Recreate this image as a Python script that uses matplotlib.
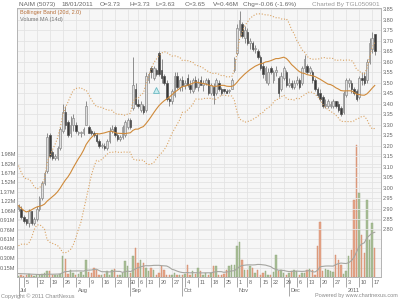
import matplotlib
matplotlib.use("Agg")
import matplotlib.pyplot as plt
from matplotlib import transforms
import numpy as np
import pandas as pd

plt.rcParams["font.family"] = ["Liberation Sans", "DejaVu Sans"]

# trading calendar (Bursa holidays removed)
holidays = ["2010-08-31", "2010-09-09", "2010-09-10", "2010-11-05", "2010-11-17", "2010-12-07"]
days = pd.bdate_range("2010-07-01", "2011-01-18")
days = days[~days.isin(pd.to_datetime(holidays))]

opens = [2.90, 2.90, 2.86, 2.85, 2.83, 2.89, 2.83, 2.85, 2.90, 2.95,
         3.02, 3.08, 3.25, 3.17, 3.14, 3.14, 3.19, 3.27, 3.36, 3.31,
         3.26, 3.30, 3.30, 3.26, 3.26, 3.26, 3.30, 3.29, 3.27, 3.26,
         3.25, 3.22, 3.20, 3.20, 3.19, 3.22, 3.27, 3.29, 3.25, 3.23,
         3.24, 3.25, 3.29, 3.32, 3.38, 3.47, 3.40, 3.37, 3.39, 3.37,
         3.51, 3.57, 3.52, 3.56, 3.64, 3.56, 3.53, 3.50, 3.42, 3.41,
         3.44, 3.53, 3.48, 3.51, 3.49, 3.52, 3.49, 3.46, 3.51, 3.48,
         3.51, 3.49, 3.50, 3.51, 3.45, 3.48, 3.45, 3.50, 3.47, 3.47,
         3.46, 3.46, 3.47, 3.56, 3.64, 3.75, 3.78, 3.71, 3.74, 3.69,
         3.69, 3.66, 3.65, 3.62, 3.58, 3.51, 3.50, 3.57, 3.51, 3.55,
         3.52, 3.47, 3.52, 3.55, 3.49, 3.50, 3.48, 3.50, 3.51, 3.50,
         3.57, 3.58, 3.55, 3.55, 3.51, 3.47, 3.45, 3.43, 3.39, 3.39,
         3.39, 3.39, 3.41, 3.40, 3.38, 3.36, 3.44, 3.50, 3.50, 3.47,
         3.46, 3.43, 3.52, 3.53, 3.51, 3.60, 3.66, 3.73]
highs = [2.92, 2.91, 2.87, 2.85, 2.90, 2.89, 2.86, 2.91, 2.96, 3.03,
         3.08, 3.26, 3.26, 3.18, 3.16, 3.20, 3.29, 3.40, 3.39, 3.32,
         3.34, 3.35, 3.31, 3.27, 3.27, 3.29, 3.41, 3.30, 3.28, 3.27,
         3.26, 3.23, 3.21, 3.21, 3.23, 3.29, 3.30, 3.30, 3.26, 3.25,
         3.30, 3.32, 3.33, 3.33, 3.62, 3.50, 3.42, 3.41, 3.40, 3.55,
         3.55, 3.58, 3.58, 3.57, 3.65, 3.61, 3.54, 3.51, 3.43, 3.47,
         3.55, 3.55, 3.52, 3.53, 3.51, 3.54, 3.51, 3.52, 3.53, 3.52,
         3.53, 3.51, 3.52, 3.52, 3.50, 3.50, 3.52, 3.51, 3.48, 3.47,
         3.47, 3.47, 3.52, 3.62, 3.78, 3.84, 3.79, 3.77, 3.76, 3.71,
         3.70, 3.68, 3.66, 3.63, 3.60, 3.58, 3.57, 3.58, 3.56, 3.58,
         3.53, 3.55, 3.58, 3.56, 3.52, 3.51, 3.51, 3.53, 3.52, 3.58,
         3.63, 3.59, 3.58, 3.56, 3.52, 3.48, 3.47, 3.44, 3.42, 3.42,
         3.41, 3.42, 3.41, 3.41, 3.39, 3.46, 3.52, 3.52, 3.51, 3.48,
         3.47, 3.53, 3.55, 3.55, 3.61, 3.71, 3.74, 3.73]
lows = [2.89, 2.85, 2.83, 2.82, 2.81, 2.82, 2.82, 2.84, 2.89, 2.94,
        3.01, 3.07, 3.14, 3.13, 3.13, 3.13, 3.18, 3.26, 3.28, 3.24,
        3.24, 3.27, 3.26, 3.25, 3.24, 3.25, 3.30, 3.26, 3.25, 3.24,
        3.21, 3.19, 3.19, 3.18, 3.18, 3.21, 3.26, 3.24, 3.22, 3.22,
        3.23, 3.24, 3.28, 3.28, 3.37, 3.39, 3.38, 3.36, 3.35, 3.36,
        3.50, 3.52, 3.51, 3.53, 3.53, 3.50, 3.49, 3.41, 3.39, 3.40,
        3.43, 3.47, 3.46, 3.46, 3.47, 3.48, 3.45, 3.45, 3.47, 3.46,
        3.49, 3.46, 3.49, 3.44, 3.44, 3.40, 3.44, 3.46, 3.44, 3.45,
        3.45, 3.45, 3.47, 3.55, 3.63, 3.72, 3.71, 3.69, 3.68, 3.66,
        3.65, 3.64, 3.61, 3.56, 3.52, 3.50, 3.49, 3.54, 3.50, 3.53,
        3.43, 3.46, 3.51, 3.48, 3.48, 3.47, 3.47, 3.49, 3.47, 3.49,
        3.55, 3.54, 3.54, 3.50, 3.46, 3.43, 3.41, 3.38, 3.38, 3.38,
        3.38, 3.38, 3.38, 3.36, 3.34, 3.35, 3.43, 3.48, 3.45, 3.44,
        3.41, 3.42, 3.49, 3.49, 3.50, 3.59, 3.64, 3.63]
closes = [2.91, 2.86, 2.84, 2.83, 2.89, 2.83, 2.85, 2.90, 2.95, 3.02,
          3.07, 3.24, 3.15, 3.14, 3.15, 3.19, 3.28, 3.36, 3.30, 3.25,
          3.30, 3.33, 3.27, 3.26, 3.26, 3.28, 3.39, 3.26, 3.26, 3.25,
          3.22, 3.20, 3.20, 3.19, 3.22, 3.27, 3.28, 3.25, 3.23, 3.24,
          3.29, 3.31, 3.32, 3.29, 3.49, 3.40, 3.39, 3.40, 3.36, 3.53,
          3.54, 3.55, 3.57, 3.54, 3.54, 3.52, 3.50, 3.42, 3.41, 3.46,
          3.53, 3.48, 3.51, 3.49, 3.50, 3.49, 3.47, 3.51, 3.48, 3.50,
          3.49, 3.50, 3.51, 3.45, 3.49, 3.44, 3.51, 3.47, 3.45, 3.46,
          3.45, 3.46, 3.51, 3.61, 3.76, 3.80, 3.72, 3.75, 3.69, 3.70,
          3.66, 3.66, 3.62, 3.57, 3.54, 3.57, 3.55, 3.55, 3.55, 3.56,
          3.45, 3.53, 3.57, 3.49, 3.50, 3.48, 3.50, 3.51, 3.48, 3.57,
          3.61, 3.55, 3.57, 3.51, 3.47, 3.44, 3.42, 3.39, 3.40, 3.41,
          3.40, 3.41, 3.39, 3.37, 3.35, 3.45, 3.51, 3.51, 3.47, 3.45,
          3.42, 3.52, 3.51, 3.50, 3.60, 3.69, 3.71, 3.65]
volumes = [0.02, 0.03, 0.02, 0.04, 0.05, 0.03, 0.02, 0.04, 0.03, 0.05,
           0.07, 0.09, 0.09, 0.04, 0.04, 0.04, 0.05, 0.34, 0.29, 0.05,
           0.12, 0.06, 0.03, 0.05, 0.08, 0.04, 0.28, 0.08, 0.06, 0.15,
           0.12, 0.04, 0.03, 0.05, 0.09, 0.04, 0.12, 0.13, 0.04, 0.03,
           0.06, 0.25, 0.17, 0.06, 0.33, 0.47, 0.23, 0.28, 0.23, 0.15,
           0.10, 0.15, 0.11, 0.04, 0.06, 0.17, 0.12, 0.03, 0.04, 0.03,
           0.06, 0.03, 0.04, 0.03, 0.05, 0.20, 0.03, 0.09, 0.05, 0.15,
           0.09, 0.04, 0.06, 0.03, 0.06, 0.17, 0.17, 0.03, 0.03, 0.05,
           0.12, 0.17, 0.20, 0.20, 0.49, 0.57, 0.28, 0.12, 0.12, 0.18,
           0.15, 0.06, 0.12, 0.03, 0.06, 0.09, 0.03, 0.03, 0.08, 0.36,
           0.09, 0.12, 0.07, 0.03, 0.06, 0.09, 0.12, 0.09, 0.03, 0.06,
           0.06, 0.12, 0.13, 0.12, 0.03, 0.49, 0.89, 0.10, 0.13, 0.11,
           0.10, 0.08, 0.36, 0.28, 0.20, 0.05, 0.09, 0.33, 0.44, 1.23,
           2.12, 1.35, 0.68, 0.39, 1.24, 0.60, 0.87, 0.46]  # millions

# closes / volumes just before the window, only to seed the 20d band and 14d MA
june_closes = [3.10, 3.05, 2.98, 2.80, 2.72, 2.70, 2.78, 2.88, 2.95, 2.93,
               2.96, 2.94, 2.92, 2.95, 2.93, 2.94, 2.96, 2.93, 2.94]
june_volumes = [0.06, 0.05, 0.07, 0.06, 0.05, 0.06, 0.07, 0.05, 0.06, 0.06,
                0.05, 0.06, 0.05]

price_ticks = [round(2.80 + 0.05 * k, 2) for k in range(22)]
vol_ticks = [0.15, 0.30, 0.46, 0.61, 0.76, 0.91, 1.06, 1.22, 1.37, 1.52, 1.67, 1.82, 1.98]
month_names = ["Jul", "Aug", "Sep", "Oct", "Nov", "Dec", "2011"]

header = [(19, "NAIM (5073)"), (61, "18/01/2011"), (100, "O=3.73"), (130, "H=3.73"),
          (156, "L=3.63"), (185, "C=3.65"), (213, "V=0.46M"), (243, "Chg=-0.06 (-1.6%)")]

o = np.array(opens); h = np.array(highs); l = np.array(lows); c = np.array(closes)
v = np.array(volumes)
x = np.arange(len(days))

cs = pd.Series(june_closes + closes)
mid = cs.rolling(20).mean().to_numpy()[len(june_closes):]
sd = cs.rolling(20).std(ddof=0).to_numpy()[len(june_closes):]
vma = pd.Series(june_volumes + volumes).rolling(14).mean().to_numpy()[len(june_volumes):]

fig = plt.figure(figsize=(4, 3), dpi=100)
ax_v = fig.add_axes([17 / 400, 1 - 277 / 300, 364 / 400, 269 / 300])
ax_p = ax_v.twinx()
ax_v.set_facecolor("#f6f6f6")
grid_c = "#e3e3e3"
lab_c = "#666666"
fs = 4.0

# volume
up = c >= o
ax_v.bar(x[up], v[up], width=0.55, color="#a9bf97", edgecolor="#8ea67b", linewidth=0.3, zorder=2)
ax_v.bar(x[~up], v[~up], width=0.55, color="#e6a68a", edgecolor="#cf8767", linewidth=0.3, zorder=2)
ax_v.plot(x, vma, color="#a5a5a0", lw=0.8, zorder=3)
ax_v.set_ylim(0, 4.32)
ax_v.set_xlim(-0.58, 139.4)
ax_v.set_yticks(vol_ticks)
ax_v.set_yticklabels(["%.2fM" % t for t in vol_ticks])
ax_v.grid(axis="y", color=grid_c, lw=0.6, zorder=0)
ax_v.set_axisbelow(True)

# x axis: weekly ticks and month separators
wk = [i for i in range(1, len(days)) if days[i].weekday() < days[i - 1].weekday()]
mo = [i for i in range(len(days)) if i == 0 or days[i].month != days[i - 1].month]
ax_v.set_xticks(wk)
ax_v.set_xticklabels([])
ax_v.set_xticks(mo, minor=True)
ax_v.grid(axis="x", which="major", color=grid_c, lw=0.6)
ax_v.tick_params(axis="x", which="major", length=7.5, width=0.6, color="#9a9a9a")
ax_v.tick_params(axis="x", which="minor", length=14, width=0.6, color="#9a9a9a")
ax_v.tick_params(axis="y", length=0, pad=1.0, labelsize=fs, labelcolor=lab_c)
tr = transforms.blended_transform_factory(ax_v.transData, ax_v.transAxes)
for i in wk:
    ax_v.text(i + 0.7, -0.019, str(days[i].day), transform=tr, fontsize=fs,
              color=lab_c, ha="left", va="center")
for i, name in zip(mo, month_names):
    ax_v.text(i + 0.7, -0.05, name, transform=tr, fontsize=fs,
              color=lab_c, ha="left", va="center")

# price
ax_p.vlines(x, l, h, color="#8c8c8c", lw=0.7, zorder=3)
body_lo = np.minimum(o, c)
body_h = np.maximum(np.abs(c - o), 0.003)
ax_p.bar(x[up], body_h[up], bottom=body_lo[up], width=0.62, color="#dedede",
         edgecolor="#8c8c8c", linewidth=0.5, zorder=4)
ax_p.bar(x[~up], body_h[~up], bottom=body_lo[~up], width=0.62, color="#383838",
         edgecolor="#505050", linewidth=0.5, zorder=4)
ax_p.plot(x, mid, color="#cf8a3a", lw=0.8, zorder=5)
ax_p.plot(x, mid + 2 * sd, color="#d9a262", lw=0.8, ls=(0, (1, 1.6)), zorder=5)
ax_p.plot(x, mid - 2 * sd, color="#d9a262", lw=0.8, ls=(0, (1, 1.6)), zorder=5)
ax_p.plot([53], [3.465], marker="^", ms=4.5, mfc="#c9eef0", mec="#6cb8c2", mew=0.6, zorder=6)
ax_p.set_ylim(2.5738, 3.8548)
ax_p.set_yticks(price_ticks)
ax_p.set_yticklabels(["%.2f" % t for t in price_ticks])
ax_p.grid(axis="y", color=grid_c, lw=0.6, zorder=0)
ax_p.tick_params(axis="y", length=0, pad=1.5, labelsize=fs, labelcolor=lab_c)

for ax in (ax_v, ax_p):
    for s in ax.spines.values():
        s.set_color("#b5b5b5")
        s.set_linewidth(0.7)

# texts
for px, s in header:
    fig.text(px / 400, 1 - 4.5 / 300, s, fontsize=4.6, color=lab_c, va="center")
fig.text(380 / 400, 1 - 4.5 / 300, "Charted By TGL050901", fontsize=4.6,
         color="#9a9a9a", va="center", ha="right")
fig.text(20 / 400, 1 - 12.5 / 300, "Bollinger Band (20d, 2.0)", fontsize=fs,
         color="#b8703a", va="center")
fig.text(20 / 400, 1 - 19.5 / 300, "Volume MA (14d)", fontsize=fs,
         color="#777777", va="center")
fig.text(1 / 400, 1 - 296 / 300, "Copyright \u00a9 2011 ChartNexus", fontsize=fs,
         color="#8a8a8a", va="center")
fig.text(398 / 400, 1 - 296 / 300, "Powered by www.chartnexus.com", fontsize=fs,
         color="#8a8a8a", va="center", ha="right")

fig.savefig("out.png", dpi=100)
